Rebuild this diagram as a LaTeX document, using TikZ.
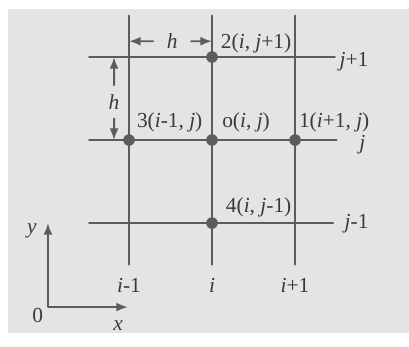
\documentclass[tikz,border=0pt]{standalone}
\usepackage{fontspec}
\usetikzlibrary{arrows.meta}
\setmainfont{Liberation Serif}
\definecolor{paper}{HTML}{E4E4E4}
\definecolor{ink}{HTML}{5C5C5C}
\definecolor{txt}{HTML}{3A3A3A}
\begin{document}
\begin{tikzpicture}[>={Latex[length=6pt,width=4.6pt]}, font=\fontsize{11}{13}\selectfont, line cap=round, line join=round, scale=1.5,
  grid/.style={ink, line width=1pt},
  pt/.style={circle, fill=ink, inner sep=0pt, minimum size=0.21cm},
  lbl/.style={text=txt, inner sep=1pt},
  hlbl/.style={text=txt, inner xsep=0.24cm, inner ysep=0.16cm}]
\useasboundingbox (-2.554,-2.482) rectangle (2.373,1.687);
\fill[paper] (-2.458,-2.325) rectangle (2.373,1.578);
% grid lines
\foreach \k in {-1,0,1} \draw[grid] (\k,-1.5) -- (\k,1.5);
\foreach \k/\r in {1/1.48, 0/1.5, -1/1.46} \draw[grid] (-1.48,\k) -- (\r,\k);
% nodes of the stencil
\node[pt] (o) at (0,0) {};
\node[pt] (n1) at (1,0) {};
\node[pt] (n2) at (0,1) {};
\node[pt] (n3) at (-1,0) {};
\node[pt] (n4) at (0,-1) {};
\node[lbl, anchor=west] (l2) at (0.08,1.17) {2(\textit{i}, \textit{j}+1)};
\node[lbl] (l3) at (-0.51,0.215) {3(\textit{i}-1, \textit{j})};
\node[lbl] (l0) at (0.41,0.215) {o(\textit{i}, \textit{j})};
\node[lbl, anchor=west] (l1) at (1.02,0.215) {1(\textit{i}+1, \textit{j})};
\node[lbl, anchor=west] (l4) at (0.14,-0.805) {4(\textit{i}, \textit{j}-1)};
% row and column labels
\node[lbl, anchor=west] (jp) at (1.51,0.94) {\textit{j}+1};
\node[lbl] (j0) at (1.81,-0.06) {\textit{j}};
\node[lbl, anchor=west] (jm) at (1.57,-1.01) {\textit{j}-1};
\foreach \k/\t in {-1/\textit{i}-1, 0/\textit{i}, 1/\textit{i}+1}
  \node[lbl] (c\k) at (\k,-1.75) {\t};
% spacing h
\coordinate (hl) at (-1,1.19);
\coordinate (hr) at (0,1.19);
\node[hlbl] (hx) at (-0.48,1.19) {\textit{h}};
\draw[->, grid] (hx) -- (hl);
\draw[->, grid] (hx) -- (hr);
\coordinate (ht) at (-1.18,1);
\coordinate (hb) at (-1.18,0);
\node[hlbl, inner xsep=1pt] (hy) at (-1.18,0.46) {\textit{h}};
\draw[->, grid] (hy) -- (ht);
\draw[->, grid] (hy) -- (hb);
% axes
\coordinate (O) at (-1.976,-2.012);
\coordinate (ytip) at (-1.976,-1.0);
\coordinate (xtip) at (-1.012,-2.012);
\draw[<->, grid] (ytip) |- (xtip);
\node[lbl] (ylbl) at (-2.17,-1.1) {\textit{y}};
\node[lbl] (olbl) at (-2.1,-2.11) {0};
\node[lbl] (xlbl) at (-1.13,-2.23) {\textit{x}};
\end{tikzpicture}
\end{document}
